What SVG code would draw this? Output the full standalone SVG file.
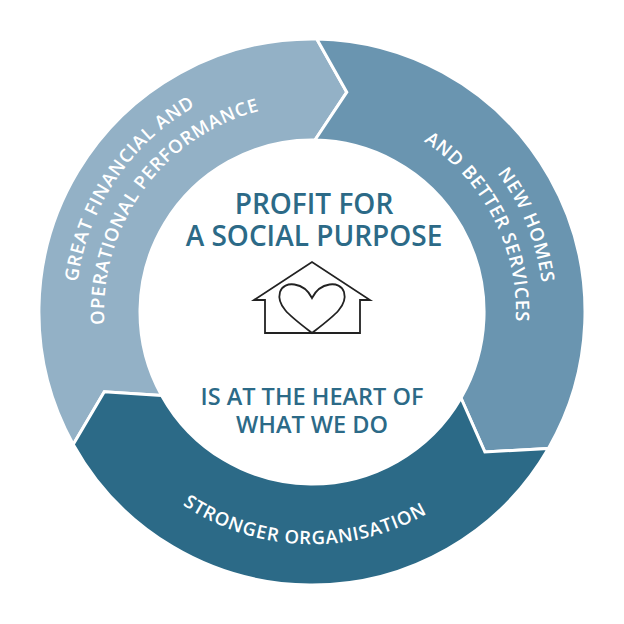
<svg xmlns="http://www.w3.org/2000/svg" width="624" height="624" viewBox="0 0 624 624">
<style>
.seg{stroke:#fff;stroke-width:3;stroke-linejoin:miter}
.arc{font-family:"Open Sans",sans-serif;font-weight:600;font-size:18.5px;fill:#fff;letter-spacing:0.8px}
.ctr{font-family:"Open Sans",sans-serif;font-weight:600;fill:#2c6a87;text-anchor:middle}
</style>
<defs>
<path id="l1" d="M247.4,538.9 A236,236 0 1 1 450.7,121.1" fill="none"/>
<path id="l2" d="M240.9,507.5 A208,208 0 1 1 445.7,152.7" fill="none"/>
<path id="r1" d="M179.0,121.7 A232,232 0 1 1 372.0,536.1" fill="none"/>
<path id="r2" d="M189.2,149.1 A204,204 0 1 1 371.6,507.1" fill="none"/>
<path id="b1" d="M85.1,263.8 A232,232 0 1 0 541.7,279.7" fill="none"/>
</defs>
<rect width="624" height="624" fill="#fff"/>
<g id="connectors">
<path id="seg-light" class="seg" fill="#93b1c6" d="M73.2,444.4 A273,273 0 0 1 316.8,39 L346.8,92.2 L315,140 A172,172 0 0 0 161.6,395.4 L104.3,391.7 Z"/>
<path id="seg-mid" class="seg" fill="#6a95b0" d="M316.8,39 A273,273 0 0 1 548.4,448.5 L484.9,452 L461,398 A172,172 0 0 0 315,140 L346.8,92.2 Z"/>
<path id="seg-dark" class="seg" fill="#2c6a87" d="M548.4,448.5 A273,273 0 0 1 73.2,444.4 L104.3,391.7 L161.6,395.4 A172,172 0 0 0 461,398 L484.9,452 Z"/>
</g>
<g id="node-financial" transform="rotate(6 312 312)">
<text class="arc" transform="rotate(2 312 312)"><textPath href="#l1" startOffset="50%" text-anchor="middle">GREAT FINANCIAL AND</textPath></text>
<text class="arc"><textPath href="#l2" startOffset="50%" text-anchor="middle">OPERATIONAL PERFORMANCE</textPath></text>
</g>
<g id="node-homes">
<text class="arc" transform="rotate(3 312 312)"><textPath href="#r1" startOffset="50%" text-anchor="middle">NEW HOMES</textPath></text>
<text class="arc"><textPath href="#r2" startOffset="50%" text-anchor="middle">AND BETTER SERVICES</textPath></text>
</g>
<g id="node-stronger">
<text class="arc"><textPath href="#b1" startOffset="50%" text-anchor="middle">STRONGER ORGANISATION</textPath></text>
</g>
<g id="node-centre">
<text class="ctr" x="314" y="214" font-size="28">PROFIT FOR</text>
<text class="ctr" x="314" y="246" font-size="28">A SOCIAL PURPOSE</text>
<path d="M254,300 L312,262 L370,300 L360,300 L360,333 L265,333 L265,300 Z" fill="none" stroke="#222" stroke-width="1.8" stroke-linejoin="miter"/>
<path d="M312,333 C290,316 276,306 280,292 C284,280 304,282 312,298 C320,282 340,280 344,292 C348,306 334,316 312,333 Z" fill="none" stroke="#222" stroke-width="1.8"/>
<text class="ctr" x="312" y="405" font-size="23.5">IS AT THE HEART OF</text>
<text class="ctr" x="312" y="433" font-size="23.5">WHAT WE DO</text>
</g>
</svg>
